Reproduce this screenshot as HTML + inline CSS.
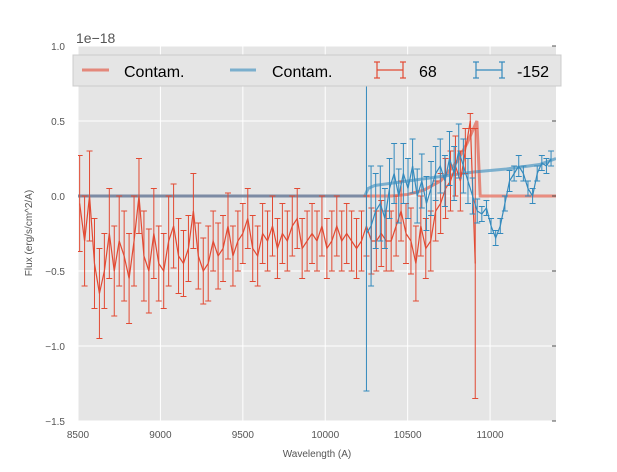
<!DOCTYPE html>
<html><head><meta charset="utf-8"><style>
body{margin:0;background:#fff;width:617px;height:467px;overflow:hidden}
svg text{font-family:"Liberation Sans",sans-serif}
</style></head><body>
<svg id="chart" width="617" height="467" xmlns="http://www.w3.org/2000/svg">
<defs><clipPath id="pc"><rect x="78" y="46" width="478" height="375"/></clipPath></defs>
<rect x="78" y="46" width="478" height="375" fill="#e5e5e5"/>
<g id="grid"></g><g id="marks" clip-path="url(#pc)"></g><g id="axes"></g>
<text x="76" y="43" font-size="14" fill="#555">1e−18</text>
<text x="317" y="457" font-size="10" fill="#555" text-anchor="middle">Wavelength (A)</text>
<text transform="translate(32,233) rotate(-90)" font-size="10" fill="#555" text-anchor="middle">Flux (erg/s/cm^2/A)</text>
<g>
<rect x="73" y="55" width="488" height="31" fill="#e5e5e5" stroke="#ccc"/>
<line x1="82" y1="70" x2="109" y2="70" stroke="#E24A33" stroke-opacity="0.6" stroke-width="3"/>
<text x="124" y="77" font-size="16" fill="#000">Contam.</text>
<line x1="230" y1="70" x2="256" y2="70" stroke="#348ABD" stroke-opacity="0.6" stroke-width="3"/>
<text x="272" y="77" font-size="16" fill="#000">Contam.</text>
<g stroke="#E24A33" stroke-width="1.2"><line x1="377" y1="70" x2="403" y2="70"/><line x1="377" y1="62" x2="377" y2="78"/><line x1="403" y1="62" x2="403" y2="78"/><line x1="374" y1="62" x2="380" y2="62"/><line x1="374" y1="78" x2="380" y2="78"/><line x1="400" y1="62" x2="406" y2="62"/><line x1="400" y1="78" x2="406" y2="78"/></g>
<text x="419" y="77" font-size="16" fill="#000">68</text>
<g stroke="#348ABD" stroke-width="1.2"><line x1="476" y1="70" x2="502" y2="70"/><line x1="476" y1="62" x2="476" y2="78"/><line x1="502" y1="62" x2="502" y2="78"/><line x1="473" y1="62" x2="479" y2="62"/><line x1="473" y1="78" x2="479" y2="78"/><line x1="499" y1="62" x2="505" y2="62"/><line x1="499" y1="78" x2="505" y2="78"/></g>
<text x="517" y="77" font-size="16" fill="#000">-152</text>
</g>
</svg>
<script>
const xTicks=[8500,9000,9500,10000,10500,11000];
const yTicks=[1.0,0.5,0.0,-0.5,-1.0,-1.5];
const yTickLabels=["1.0","0.5","0.0","−0.5","−1.0","−1.5"];
const redStart=8510, redStep=30;
const redFlux=[-0.05,-0.3,0.0,-0.45,-0.65,-0.5,-0.25,-0.5,-0.3,-0.4,-0.55,-0.3,0.0,-0.4,-0.5,-0.25,-0.45,-0.5,-0.3,-0.2,-0.4,-0.45,-0.35,-0.1,-0.4,-0.5,-0.45,-0.3,-0.4,-0.35,-0.2,-0.4,-0.3,-0.25,-0.15,-0.35,-0.4,-0.25,-0.3,-0.2,-0.35,-0.25,-0.3,-0.2,-0.15,-0.35,-0.3,-0.25,-0.3,-0.2,-0.35,-0.3,-0.2,-0.3,-0.25,-0.3,-0.35,-0.3,-0.2,-0.3,-0.3,-0.25,-0.3,-0.3,-0.2,-0.1,-0.25,-0.3,-0.45,-0.2,-0.35,-0.3,-0.1,-0.05,0.05,0.1,0.2,0.1,0.3,0.5,-0.45];
const redErr=[0.32,0.3,0.3,0.3,0.3,0.25,0.3,0.3,0.3,0.3,0.3,0.3,0.25,0.3,0.28,0.3,0.25,0.25,0.3,0.28,0.25,0.22,0.22,0.25,0.22,0.22,0.25,0.2,0.22,0.22,0.22,0.2,0.2,0.2,0.2,0.22,0.2,0.2,0.2,0.2,0.2,0.2,0.2,0.2,0.2,0.2,0.2,0.2,0.2,0.2,0.2,0.2,0.2,0.2,0.2,0.2,0.2,0.2,0.2,0.22,0.2,0.22,0.2,0.2,0.2,0.2,0.2,0.22,0.25,0.2,0.2,0.2,0.2,0.2,0.2,0.2,0.2,0.2,0.15,0.05,0.9];
const blueStart=10250, blueStep=28;
const blueFlux=[-0.25,-0.2,-0.1,-0.05,-0.15,0.05,0.15,0.0,0.15,0.05,0.2,0.0,0.1,-0.05,0.05,0.15,0.2,0.1,0.25,0.15,0.3,0.2,0.1,0.0,-0.1,-0.12,-0.08,-0.2,-0.28,-0.2,-0.05,0.1,0.15,0.2,0.15,0.05,0.0,0.15,0.22,0.2,0.25];
const blueErr=[1.05,0.4,0.25,0.25,0.2,0.2,0.2,0.18,0.2,0.2,0.18,0.18,0.18,0.18,0.18,0.18,0.18,0.17,0.18,0.18,0.18,0.18,0.15,0.12,0.08,0.05,0.05,0.05,0.05,0.05,0.05,0.07,0.05,0.07,0.05,0.05,0.05,0.05,0.05,0.05,0.05];
const contamRedX=[8500,10400,10500,10600,10700,10800,10860,10920,10940,11400];
const contamRedY=[0.0,0.0,0.01,0.04,0.1,0.23,0.35,0.5,0.0,0.0];
const contamBlueX=[8500,10240,10260,10300,10500,10700,10900,11100,11300,11400];
const contamBlueY=[0.0,0.0,0.05,0.07,0.1,0.13,0.16,0.18,0.21,0.25];

const X=v=>78+(v-8500)*(478/2900);
const Y=v=>196-v*150;
const NS="http://www.w3.org/2000/svg";
function mk(parent,tag,attrs){const e=document.createElementNS(NS,tag);for(const k in attrs)e.setAttribute(k,attrs[k]);document.getElementById(parent).appendChild(e);return e;}

xTicks.forEach(t=>{
 const g=mk('grid','line',{x1:X(t),x2:X(t),y1:46,y2:421,stroke:'#fff','stroke-width':1});
 
 
 const l=mk('axes','text',{x:X(t),y:438,'font-size':10,fill:'#555','text-anchor':'middle'});l.textContent=t;
 
 
});
yTicks.forEach((t,i)=>{
 const g=mk('grid','line',{x1:78,x2:556,y1:Y(t),y2:Y(t),stroke:'#fff','stroke-width':1});
 
 
 const tk=mk('axes','line',{x1:552,x2:556,y1:Y(t),y2:Y(t),stroke:'#555'});
 
 
 const l=mk('axes','text',{x:65,y:Y(t)+4,'font-size':10,fill:'#555','text-anchor':'end'});l.textContent=yTickLabels[i];
 
 
});
function line(xs,ys,color,w,op,name){
 const p=mk('marks','polyline',{points:xs.map((x,i)=>X(x)+','+Y(ys[i])).join(' '),fill:'none',stroke:color,'stroke-width':w,'stroke-opacity':op});
 
 
}
function errSeries(start,step,f,e,color,name){
 const xs=f.map((_,i)=>start+i*step);
 f.forEach((v,i)=>{
  const x=X(xs[i]),y1=Y(v+e[i]),y2=Y(v-e[i]);
  const g=mk('marks','path',{d:`M${x},${y1}V${y2}M${x-3},${y1}H${x+3}M${x-3},${y2}H${x+3}`,stroke:color,'stroke-width':1,fill:'none'});
  
  
 });
 line(xs,f,color,1.2,1,name+'-line');
}
line(contamRedX,contamRedY,'#E24A33',3,0.6,'contam-red-line');
line(contamBlueX,contamBlueY,'#348ABD',3,0.6,'contam-blue-line');
errSeries(redStart,redStep,redFlux,redErr,'#E24A33','series-68');
errSeries(blueStart,blueStep,blueFlux,blueErr,'#348ABD','series-152');
</script>
</body></html>
